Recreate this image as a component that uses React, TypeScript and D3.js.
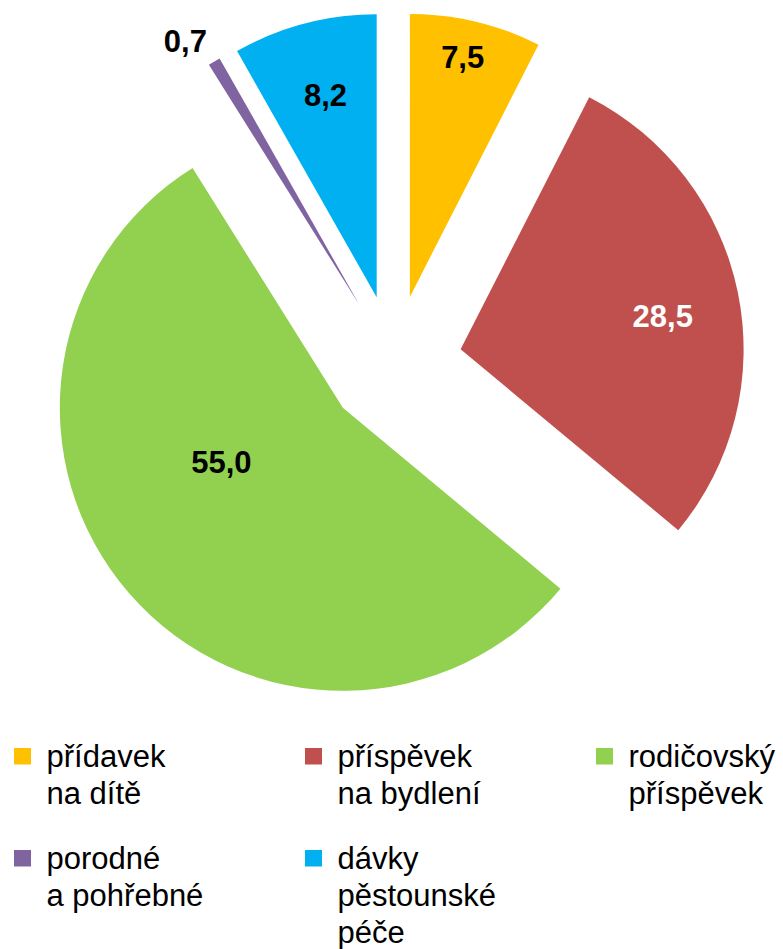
import React from "react";
import * as d3 from "d3";

const categories = ["přídavek na dítě", "příspěvek na bydlení", "rodičovský příspěvek", "porodné a pohřebné", "dávky pěstounské péče"];
const values = [7.5, 28.5, 55.0, 0.7, 8.2];
const valueLabels = ["7,5", "28,5", "55,0", "0,7", "8,2"];
const legendLines = [["přídavek", "na dítě"], ["příspěvek", "na bydlení"], ["rodičovský", "příspěvek"], ["porodné", "a pohřebné"], ["dávky", "pěstounské", "péče"]];
const colors = ["#FFC000", "#C0504D", "#92D050", "#8064A2", "#00B0F0"];
const labelColors = ["#000", "#fff", "#000", "#000", "#000"];
// label placement: fraction of radius from slice vertex and angular shift (deg)
const labelFrac = [0.868, 0.724, 0.47, 1.115, 0.737];
const labelShift = [-1.1, 2.2, 17.1, -2.6, 0.6];

const W = 783, H = 949;
const cx = 394, cy = 363, R = 283, explode = 68;
const FONT = "'Liberation Sans', Arial, Helvetica, sans-serif";

export default function App() {
  const pie = d3.pie<number>().sort(null).value((d) => d);
  const arcs = pie(values);
  const arcGen = d3.arc<d3.PieArcDatum<number>>().innerRadius(0).outerRadius(R);

  const legendCols = [14, 305, 596];
  const rowBase = [767, 869];
  const lineH = 37;

  return (
    <svg width={W} height={H} style={{ position: "absolute", left: 0, top: 0, background: "#fff" }}>
      {arcs.map((a, i) => {
        const mid = (a.startAngle + a.endAngle) / 2;
        const ox = cx + explode * Math.sin(mid);
        const oy = cy - explode * Math.cos(mid);
        const la = mid + (labelShift[i] * Math.PI) / 180;
        const lx = ox + labelFrac[i] * R * Math.sin(la);
        const ly = oy - labelFrac[i] * R * Math.cos(la);
        return (
          <g key={categories[i]}>
            <path d={arcGen(a) || ""} transform={`translate(${ox},${oy})`} fill={colors[i]} />
            <text x={lx} y={ly + 11} textAnchor="middle" fontFamily={FONT} fontWeight="bold" fontSize={31} fill={labelColors[i]}>
              {valueLabels[i]}
            </text>
          </g>
        );
      })}
      {categories.map((c, i) => {
        const col = i % 3;
        const row = Math.floor(i / 3);
        const x = legendCols[col];
        const b = rowBase[row];
        return (
          <g key={"lg" + c}>
            <rect x={x} y={b - 19} width={17} height={16.5} fill={colors[i]} />
            <text fontFamily={FONT} fontSize={31} fill="#000">
              {legendLines[i].map((t, j) => (
                <tspan key={j} x={x + 32.5} y={b + j * lineH}>
                  {t}
                </tspan>
              ))}
            </text>
          </g>
        );
      })}
    </svg>
  );
}
